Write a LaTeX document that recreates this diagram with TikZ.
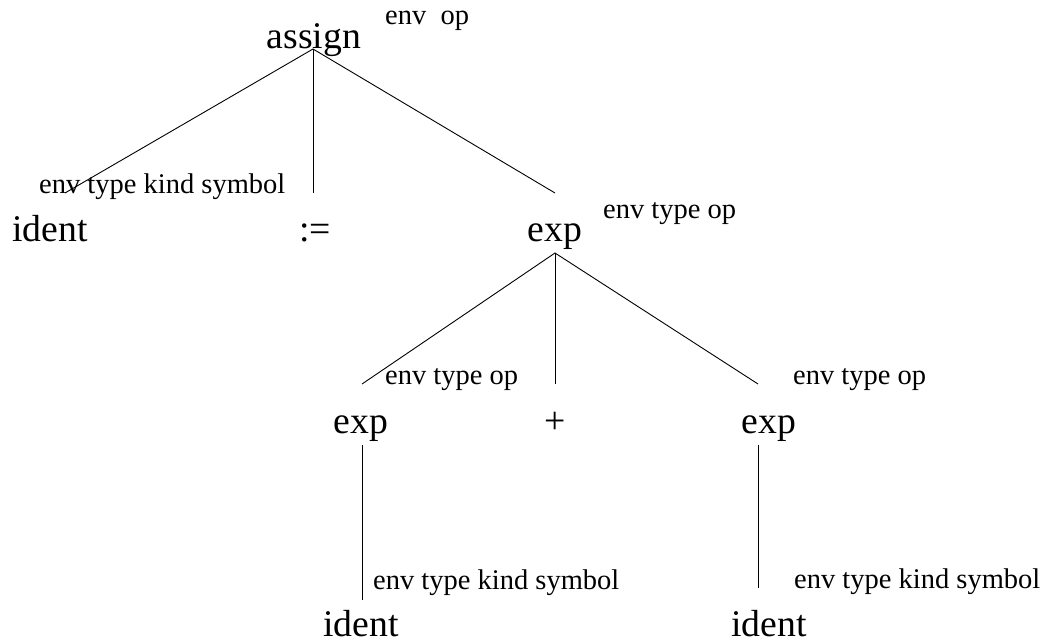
\documentclass[tikz,border=0pt]{standalone}
\usepackage{fontspec}
\setmainfont{Liberation Serif}
\begin{document}
\begin{tikzpicture}[x=1pt,y=-1pt,
  big/.style={inner sep=0pt,font=\fontsize{37.7}{40}\selectfont},
  small/.style={inner sep=0pt,font=\fontsize{28.5}{31}\selectfont},
  edge/.style={line width=0.9pt,black}]
\useasboundingbox (0,0) rectangle (1050,642);

% root
\node[big,anchor=base] (assign) at (314,49) {assign};
\node[small,anchor=base west] (assignattr) at (385,25) {env\ \ op};

% first level
\node[big,anchor=base] (id1) at (50,241) {ident};
\node[small,anchor=base west] (id1attr) at (39,193) {env type kind symbol};
\node[big,anchor=base] (becomes) at (315,241) {:=};
\node[big,anchor=base] (exp0) at (555,241) {exp};
\node[small,anchor=base west] (exp0attr) at (603,218) {env type op};

% second level
\node[big,anchor=base] (exp1) at (361,433) {exp};
\node[small,anchor=base west] (exp1attr) at (385,384) {env type op};
\node[big,anchor=base] (plus) at (555,433) {+};
\node[big,anchor=base] (exp2) at (769,433) {exp};
\node[small,anchor=base west] (exp2attr) at (793,384) {env type op};

% leaves
\node[big,anchor=base] (id2) at (361,636) {ident};
\node[small,anchor=base west] (id2attr) at (373,589) {env type kind symbol};
\node[big,anchor=base] (id3) at (769,636) {ident};
\node[small,anchor=base west] (id3attr) at (794,588) {env type kind symbol};

% edge end points
\coordinate (r) at (313,49);
\coordinate (rl) at (65,193);
\coordinate (rm) at (313,193);
\coordinate (rr) at (555,193);
\coordinate (e) at (555,253);
\coordinate (el) at (362,384);
\coordinate (em) at (555,384);
\coordinate (er) at (758,384);
\coordinate (e1t) at (362,445);
\coordinate (e1b) at (362,600);
\coordinate (e2t) at (758,445);
\coordinate (e2b) at (758,588);

\draw[edge] (rl) -- (r) -- (rr);
\draw[edge] (r) -- (rm);
\draw[edge] (el) -- (e) -- (er);
\draw[edge] (e) -- (em);
\draw[edge] (e1t) -- (e1b);
\draw[edge] (e2t) -- (e2b);
\end{tikzpicture}
\end{document}
